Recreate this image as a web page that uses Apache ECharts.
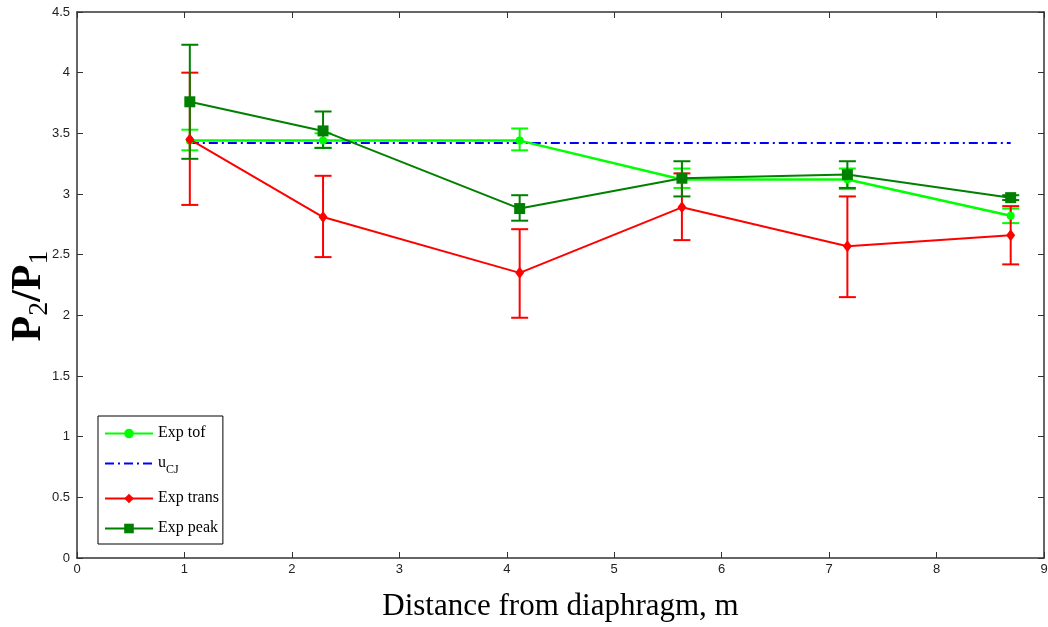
<!DOCTYPE html>
<html>
<head>
<meta charset="utf-8">
<script src="https://cdn.jsdelivr.net/npm/echarts@6/dist/echarts.min.js"></script>
<style>
  html, body { margin: 0; padding: 0; background: #fff; }
  #chart { width: 1048px; height: 627px; }
</style>
</head>
<body>
<div id="chart"></div>
<script>
// Measurement stations along the tube (m)
const distances = [1.05, 2.29, 4.12, 5.63, 7.17, 8.69];

// Pressure ratio P2/P1 from time-of-flight
const tofRatio = [3.44, 3.44, 3.44, 3.12, 3.12, 2.82];
const tofLow   = [3.36, 3.38, 3.36, 3.05, 3.04, 2.76];
const tofHigh  = [3.53, 3.50, 3.54, 3.21, 3.21, 2.88];

// Pressure ratio from transducer signal
const transRatio = [3.45, 2.81, 2.35, 2.89, 2.57, 2.66];
const transLow   = [2.91, 2.48, 1.98, 2.62, 2.15, 2.42];
const transHigh  = [4.00, 3.15, 2.71, 3.17, 2.98, 2.90];

// Pressure ratio from peak pressure
const peakRatio = [3.76, 3.52, 2.88, 3.13, 3.16, 2.97];
const peakLow   = [3.29, 3.38, 2.78, 2.98, 3.05, 2.95];
const peakHigh  = [4.23, 3.68, 2.99, 3.27, 3.27, 2.99];

// Chapman-Jouguet reference level
const cjRatio = 3.42;

const xTicks = [0, 9, 1];
const yTicks = [0, 4.5, 0.5];

const GREEN = '#00ff00', DARK = '#008000', RED = '#ff0000', BLUE = '#0000ff';
const tickFont = "'Liberation Sans Narrow', 'Liberation Sans', Arial, sans-serif";
const serif = "'Liberation Serif', 'Times New Roman', serif";

const pairs = (ys) => distances.map((x, i) => [x, ys[i]]);
const bars = (lo, hi) => distances.map((x, i) => [x, lo[i], hi[i]]);

function errorBars(color) {
  return function (params, api) {
    const x = api.value(0);
    const a = api.coord([x, api.value(1)]);
    const b = api.coord([x, api.value(2)]);
    const hw = 8.5;
    const style = { stroke: color, lineWidth: 2 };
    return {
      type: 'group',
      children: [
        { type: 'line', shape: { x1: a[0], y1: a[1], x2: b[0], y2: b[1] }, style },
        { type: 'line', shape: { x1: a[0] - hw, y1: a[1], x2: a[0] + hw, y2: a[1] }, style },
        { type: 'line', shape: { x1: b[0] - hw, y1: b[1], x2: b[0] + hw, y2: b[1] }, style }
      ]
    };
  };
}

function errSeries(color, lo, hi) {
  return {
    type: 'custom',
    renderItem: errorBars(color),
    data: bars(lo, hi),
    encode: { x: 0, y: [1, 2] },
    silent: true,
    z: 3
  };
}

const baseAxis = {
  type: 'value',
  axisLine: { show: true, onZero: false, lineStyle: { color: '#333', width: 1.5 } },
  axisTick: { show: true, inside: true, length: 6, lineStyle: { color: '#333', width: 1 } },
  splitLine: { show: false }
};

const chart = echarts.init(document.getElementById('chart'), null, { renderer: 'canvas' });

chart.setOption({
  animation: false,
  backgroundColor: '#fff',
  grid: { left: 77, right: 4, top: 12, bottom: 69, show: false,
          containLabel: false, outerBoundsMode: 'none' },
  xAxis: [
    Object.assign({}, baseAxis, {
      min: xTicks[0], max: xTicks[1], interval: xTicks[2],
      position: 'bottom',
      axisLabel: { color: '#222', fontSize: 13, fontFamily: tickFont, margin: 5 },
      name: 'Distance from diaphragm, m',
      nameLocation: 'middle',
      nameGap: 33,
      nameMoveOverlap: false,
      nameTextStyle: { fontFamily: serif, fontSize: 31, color: '#000' }
    }),
    Object.assign({}, baseAxis, {
      min: xTicks[0], max: xTicks[1], interval: xTicks[2],
      position: 'top',
      axisLabel: { show: false }
    })
  ],
  yAxis: [
    Object.assign({}, baseAxis, {
      min: yTicks[0], max: yTicks[1], interval: yTicks[2],
      position: 'left',
      axisLabel: { color: '#222', fontSize: 13, fontFamily: tickFont, margin: 7 },
      name: '{p|P}{s|2}{p|/P}{s|1}',
      nameLocation: 'middle',
      nameRotate: 90,
      nameGap: 27,
      nameMoveOverlap: false,
      nameTextStyle: {
        padding: [0, 22, 0, 0],
        rich: {
          p: { fontFamily: serif, fontSize: 42, fontWeight: 'bold', color: '#000',
               lineHeight: 42, verticalAlign: 'top' },
          s: { fontFamily: serif, fontSize: 28, color: '#000',
               lineHeight: 28, padding: [18, 0, 0, 0], verticalAlign: 'top' }
        }
      }
    }),
    Object.assign({}, baseAxis, {
      min: yTicks[0], max: yTicks[1], interval: yTicks[2],
      position: 'right',
      axisLabel: { show: false }
    })
  ],
  legend: {
    orient: 'vertical',
    left: 98,
    top: 416,
    data: ['Exp tof', { name: 'uCJ', itemStyle: { opacity: 0 } }, 'Exp trans', 'Exp peak'],
    backgroundColor: '#fff',
    borderColor: '#000',
    borderWidth: 1,
    borderRadius: 0,
    padding: [9, 4, 8, 6],
    itemWidth: 48,
    itemHeight: 12,
    itemGap: 14,
    formatter: function (name) {
      return name === 'uCJ' ? '{t|u}{sub|CJ}' : '{t|' + name + '}';
    },
    textStyle: {
      rich: {
        t: { fontFamily: serif, fontSize: 16, color: '#000', lineHeight: 17, verticalAlign: 'top' },
        sub: { fontFamily: serif, fontSize: 12, color: '#000', lineHeight: 12,
               padding: [9, 0, 0, 0], verticalAlign: 'top' }
      }
    }
  },
  series: [
    errSeries(GREEN, tofLow, tofHigh),
    errSeries(RED, transLow, transHigh),
    errSeries(DARK, peakLow, peakHigh),
    {
      name: 'uCJ',
      type: 'line',
      data: [[distances[0], cjRatio], [distances[distances.length - 1], cjRatio]],
      showSymbol: false,
      symbol: 'none',
      lineStyle: { color: BLUE, width: 2, type: [9, 4, 2, 4] },
      itemStyle: { color: BLUE },
      z: 4
    },
    {
      name: 'Exp tof',
      type: 'line',
      data: pairs(tofRatio),
      symbol: 'circle',
      symbolSize: 8,
      lineStyle: { color: GREEN, width: 2.5 },
      itemStyle: { color: GREEN },
      z: 5
    },
    {
      name: 'Exp trans',
      type: 'line',
      data: pairs(transRatio),
      symbol: 'diamond',
      symbolSize: [9, 12],
      lineStyle: { color: RED, width: 2 },
      itemStyle: { color: RED },
      z: 6
    },
    {
      name: 'Exp peak',
      type: 'line',
      data: pairs(peakRatio),
      symbol: 'rect',
      symbolSize: 11,
      lineStyle: { color: DARK, width: 2 },
      itemStyle: { color: DARK },
      z: 7
    }
  ]
});
</script>
</body>
</html>
